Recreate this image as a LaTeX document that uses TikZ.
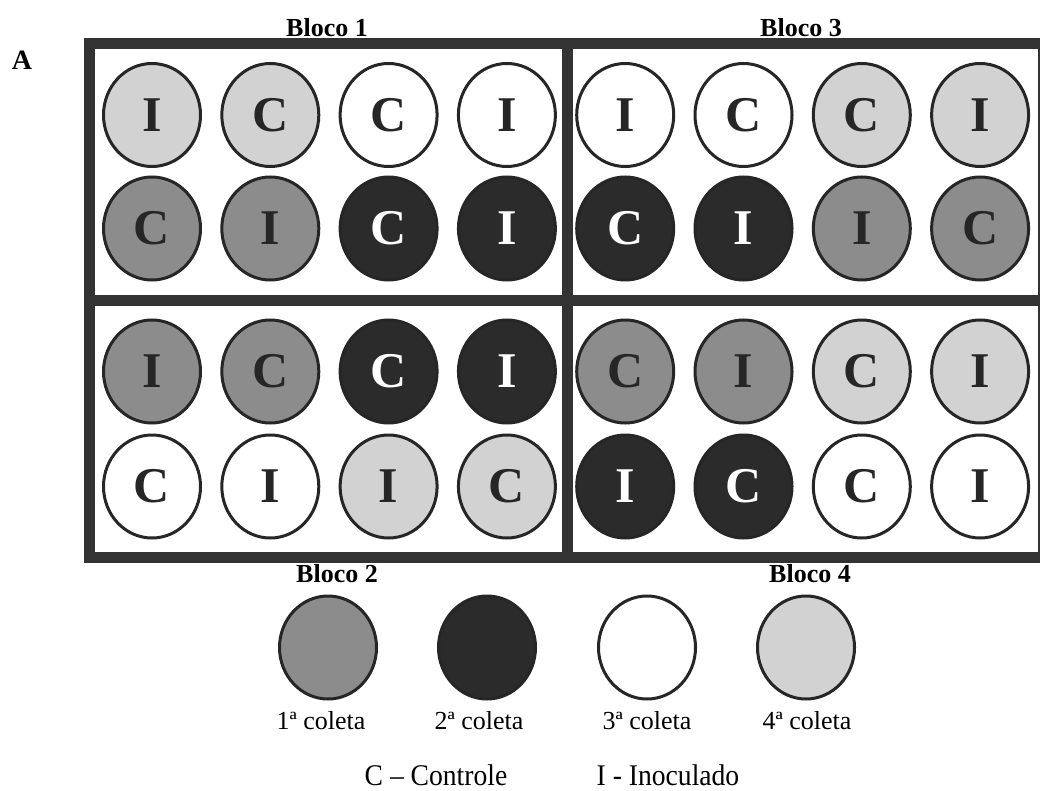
\documentclass[tikz,border=0pt]{standalone}
\usepackage{fontspec}
\setmainfont{Liberation Serif}
\usetikzlibrary{shapes.geometric}
\definecolor{frameline}{HTML}{333333}
\definecolor{wellline}{HTML}{262626}
\definecolor{firstgray}{HTML}{8C8C8C}
\definecolor{seconddark}{HTML}{2B2B2B}
\definecolor{fourthlight}{HTML}{D2D2D2}

\begin{document}
\begin{tikzpicture}[
    x=1pt, y=-1pt,
    blockframe/.style={line width=11pt, frameline},
    well/.style={ellipse, draw=wellline, line width=3pt, minimum width=97pt, minimum height=103pt,
        inner sep=0pt, font=\fontsize{50}{50}\selectfont\bfseries},
    coleta1/.style={well, fill=firstgray, text=wellline},
    coleta2/.style={well, fill=seconddark, text=white},
    coleta3/.style={well, fill=white, text=wellline},
    coleta4/.style={well, fill=fourthlight, text=wellline},
    bloco/.style={anchor=base, font=\fontsize{26}{26}\selectfont\bfseries},
    legtext/.style={anchor=base, font=\fontsize{26}{26}\selectfont}
]

\pgfmathsetmacro{\colA}{152}     
\pgfmathsetmacro{\colStep}{118.3}

% Page
\useasboundingbox (0,0) rectangle (1040,791);
\fill[white] (0,0) rectangle (1040,791);
\clip (0,0) rectangle (1040,791);

% Frame of the four blocks
\draw[blockframe] (89,44) rectangle (1043,557);
\draw[blockframe] (567.5,44) -- (567.5,557);
\draw[blockframe] (89,300) -- (1043,300);

% Panel letter and block titles
\node[anchor=base, font=\fontsize{28}{28}\selectfont\bfseries] (panelA) at (22,70) {A};
\node[bloco] (bloco1) at (327,37) {Bloco 1};
\node[bloco] (bloco3) at (801,37) {Bloco 3};
\node[bloco] (bloco2) at (337,582) {Bloco 2};
\node[bloco] (bloco4) at (810,582) {Bloco 4};

% ---------------------------------------------------------
% WELLS (letter / coleta)
% ---------------------------------------------------------

% Row 1 (Bloco 1 | Bloco 3)
\foreach \t/\ci [count=\n] in {I/4, C/4, C/3, I/3, I/3, C/3, C/4, I/4}
    \node[coleta\ci] (r1c\n) at ({\colA+\colStep*(\n-1)}, 115) {\t};

% Row 2
\foreach \t/\ci [count=\n] in {C/1, I/1, C/2, I/2, C/2, I/2, I/1, C/1}
    \node[coleta\ci] (r2c\n) at ({\colA+\colStep*(\n-1)}, 228.5) {\t};

% Row 3 (Bloco 2 | Bloco 4)
\foreach \t/\ci [count=\n] in {I/1, C/1, C/2, I/2, C/1, I/1, C/4, I/4}
    \node[coleta\ci] (r3c\n) at ({\colA+\colStep*(\n-1)}, 371.5) {\t};

% Row 4
\foreach \t/\ci [count=\n] in {C/3, I/3, I/4, C/4, I/2, C/2, C/3, I/3}
    \node[coleta\ci] (r4c\n) at ({\colA+\colStep*(\n-1)}, 486.5) {\t};

% ---------------------------------------------------------
% LEGEND
% ---------------------------------------------------------
\foreach \ci/\xx/\lx in {1/328/321, 2/487/479, 3/647/647, 4/806/807} {
    \node[coleta\ci] (leg\ci) at (\xx,647.5) {};
    \node[legtext] (legtxt\ci) at (\lx,729) {{\ci}ª coleta};
}

\node[legtext, font=\fontsize{30}{30}\selectfont] (controle) at (436,785) {\scalebox{0.92}[1]{C – Controle}};
\node[legtext, font=\fontsize{30}{30}\selectfont] (inoculado) at (668,785) {\scalebox{0.92}[1]{I - Inoculado}};

\end{tikzpicture}
\end{document}
